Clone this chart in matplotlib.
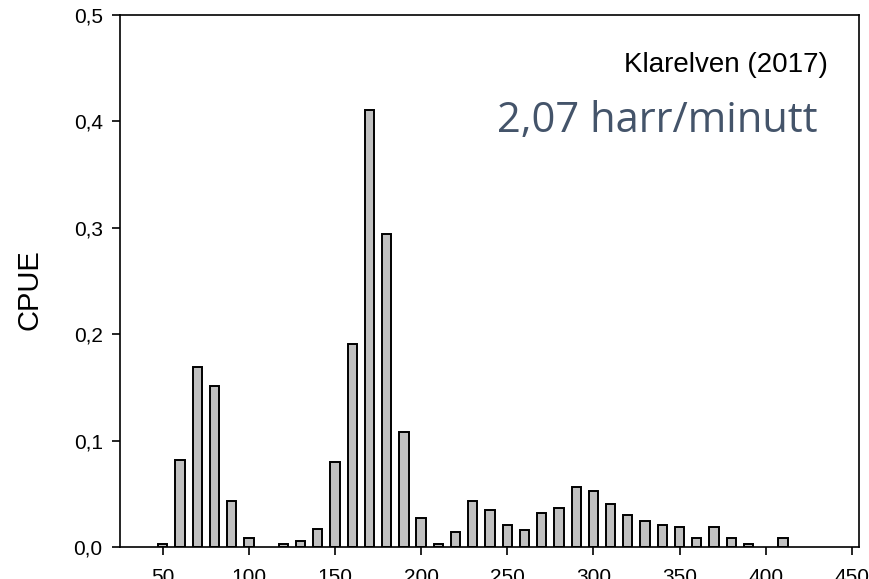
import matplotlib
matplotlib.use("Agg")
import matplotlib.pyplot as plt
import numpy as np

#----------------------------------------
#--------data (length class vs CPUE)-----
#----------------------------------------
lengths = [50, 60, 70, 80, 90, 100, 110, 120, 130, 140,
           150, 160, 170, 180, 190, 200, 210, 220, 230, 240,
           250, 260, 270, 280, 290, 300, 310, 320, 330, 340,
           350, 360, 370, 380, 390, 400, 410]
cpue = [0.003, 0.082, 0.169, 0.151, 0.043, 0.008, 0.0, 0.003, 0.006, 0.017,
        0.080, 0.191, 0.411, 0.294, 0.108, 0.027, 0.003, 0.014, 0.043, 0.035,
        0.021, 0.016, 0.032, 0.037, 0.056, 0.053, 0.040, 0.030, 0.024, 0.021,
        0.019, 0.008, 0.019, 0.008, 0.003, 0.0, 0.008]
yticks = [0.0, 0.1, 0.2, 0.3, 0.4, 0.5]
ytick_labels = ["0,0", "0,1", "0,2", "0,3", "0,4", "0,5"]
xticks = [50, 100, 150, 200, 250, 300, 350, 400, 450]

plt.rcParams['font.family'] = ['Liberation Sans', 'DejaVu Sans']

fig = plt.figure(figsize=(8.69, 5.79), dpi=100)
ax = fig.add_axes([0.1381, 0.0553, 0.9885 - 0.1381, 0.9741 - 0.0553])

# only draw the non-empty classes
x = np.array(lengths)
y = np.array(cpue)
mask = y > 0
ax.bar(x[mask], y[mask], width=5.4, color="#c0c0c0", edgecolor="black",
       linewidth=1.4, zorder=2)

ax.set_xlim(25.2, 454.2)
ax.set_ylim(0, 0.5)
ax.set_xticks(xticks)
ax.set_yticks(yticks)
ax.set_yticklabels(ytick_labels)
ax.tick_params(axis="both", direction="out", length=5.5, width=1.2,
               labelsize=15, pad=7)
ax.tick_params(axis="x", pad=9.5)
for s in ax.spines.values():
    s.set_linewidth(1.2)

ax.set_ylabel("CPUE", fontsize=21)
ax.yaxis.set_label_coords(-0.104, 0.483)

ax.text(0.958, 0.893, "Klarelven (2017)", transform=ax.transAxes,
        ha="right", va="baseline", fontsize=20)
ax.text(0.9445, 0.780, "2,07 harr/minutt", transform=ax.transAxes,
        ha="right", va="baseline", fontsize=30, color="#44546A",
        family="Open Sans")

fig.savefig("out.png", dpi=100)
